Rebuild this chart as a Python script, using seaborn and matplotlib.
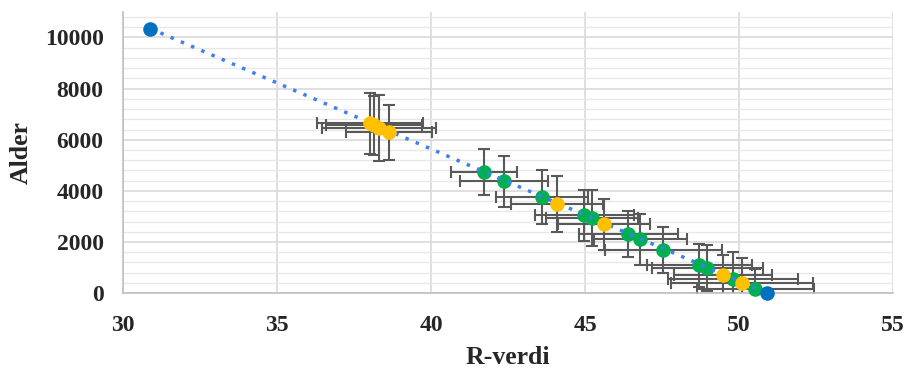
import matplotlib
matplotlib.use('Agg')
import matplotlib.pyplot as plt
from matplotlib.ticker import MultipleLocator
import seaborn as sns
import pandas as pd

# end points (blue)
blue_x = [30.88, 50.91]
blue_y = [10350, 0]

# yellow series
yellow_x = [38.02, 38.15, 38.31, 38.64, 44.09, 45.62, 49.48, 50.10]
yellow_y = [6640, 6560, 6450, 6290, 3480, 2700, 700, 390]
yellow_xerr = [1.72, 1.55, 1.86, 1.40, 1.5, 1.5, 1.6, 2.3]
yellow_yerr = [1200, 1170, 1290, 1070, 1100, 1000, 800, 1000]

# green series
green_x = [41.72, 42.37, 43.60, 44.97, 45.23, 46.40, 46.79, 47.53, 48.70, 48.96, 49.80, 50.52]
green_y = [4730, 4380, 3750, 3050, 2930, 2300, 2110, 1680, 1090, 980, 550, 160]
green_xerr = [1.08, 1.43, 1.5, 1.6, 1.5, 1.6, 1.5, 1.9, 1.7, 1.8, 2.1, 1.9]
green_yerr = [900, 1000, 1050, 1000, 1100, 900, 1000, 900, 850, 900, 1050, 800]

sns.set_style('white')
plt.rcParams['font.family'] = ['Liberation Serif', 'DejaVu Serif']

fig = plt.figure(figsize=(9.05, 3.72), dpi=100)
ax = fig.add_axes([0.136, 0.212, 0.851, 0.756])

err_kw = dict(fmt='none', ecolor='#595959', elinewidth=1.5, capsize=4.5, capthick=1.5, zorder=2)
ax.errorbar(green_x, green_y, xerr=green_xerr, yerr=green_yerr, **err_kw)
ax.errorbar(yellow_x, yellow_y, xerr=yellow_xerr, yerr=yellow_yerr, **err_kw)
n_err = len(ax.collections)

green_df = pd.DataFrame({'x': green_x, 'y': green_y})
yellow_df = pd.DataFrame({'x': yellow_x, 'y': yellow_y})
blue_df = pd.DataFrame({'x': blue_x, 'y': blue_y})

sns.scatterplot(data=green_df, x='x', y='y', color='#00B050', s=110, linewidth=0, ax=ax, zorder=3)
# dotted trend line between the end points
sns.lineplot(data=blue_df, x='x', y='y', color='#3F7FEF', linestyle=(0, (1, 2.2)), linewidth=2.5,
             ax=ax, zorder=4)
sns.scatterplot(data=yellow_df, x='x', y='y', color='#FFC000', s=110, linewidth=0, ax=ax, zorder=5)
sns.scatterplot(data=blue_df, x='x', y='y', color='#0070C0', s=110, linewidth=0, ax=ax, zorder=6)
# keep markers whole at the axis edge
for coll in ax.collections[n_err:]:
    coll.set_clip_on(False)

ax.set_xlim(30, 55)
ax.set_ylim(0, 11000)
ax.set_xticks([30, 35, 40, 45, 50, 55])
ax.set_yticks([0, 2000, 4000, 6000, 8000, 10000])
ax.yaxis.set_minor_locator(MultipleLocator(400))
ax.grid(which='major', axis='both', color='#D9D9D9', linewidth=1.2, zorder=0)
ax.grid(which='minor', axis='y', color='#E8E8E8', linewidth=1.0, zorder=0)
ax.set_axisbelow(True)
ax.tick_params(which='both', length=0, labelsize=17)
ax.tick_params(axis='x', pad=16)
ax.tick_params(axis='y', pad=14)
for lab in ax.get_xticklabels() + ax.get_yticklabels():
    lab.set_fontweight('bold')

for side in ['top', 'right']:
    ax.spines[side].set_visible(False)
for side in ['left', 'bottom']:
    ax.spines[side].set_color('#BFBFBF')
    ax.spines[side].set_linewidth(1.2)

ax.set_xlabel('R-verdi', fontsize=18.5, fontweight='bold', labelpad=7)
ax.set_ylabel('Alder', fontsize=18.5, fontweight='bold', labelpad=9)

fig.savefig('out.png', dpi=100)
